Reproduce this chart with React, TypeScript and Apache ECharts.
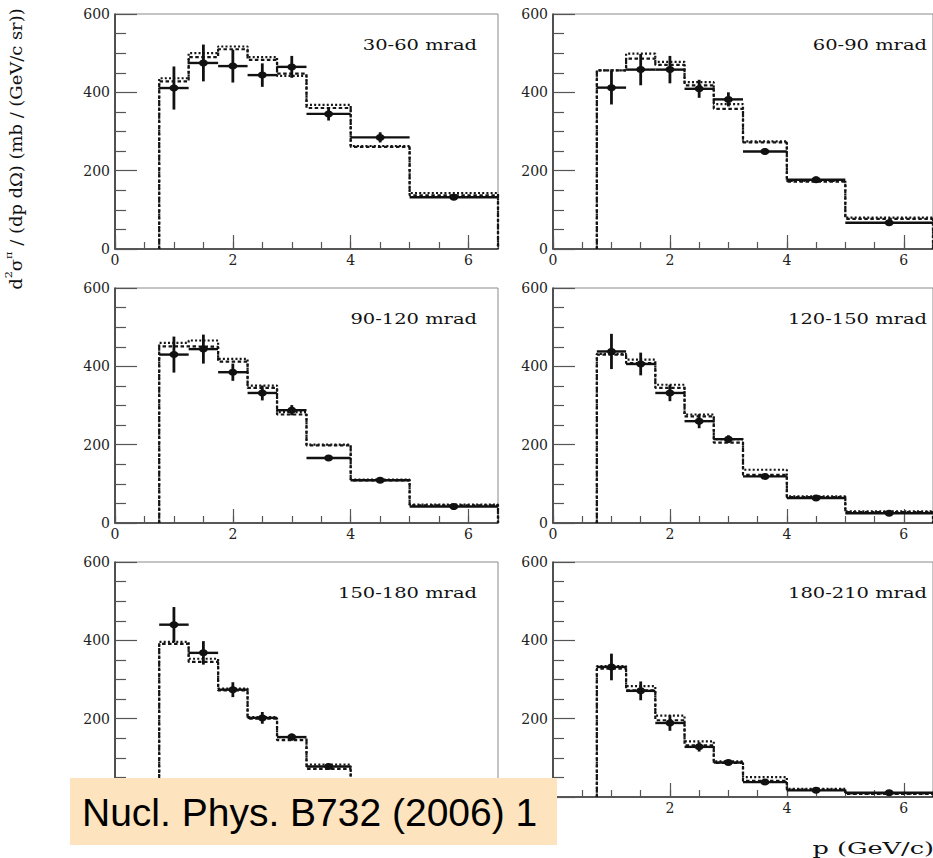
import React, { useEffect, useRef } from "react";
import * as echarts from "echarts";

// ---------- data ----------
const binEdges = [0.75, 1.25, 1.75, 2.25, 2.75, 3.25, 4, 5, 6.5];
const binCenters = [1, 1.5, 2, 2.5, 3, 3.625, 4.5, 5.75];

const panelLabels = ["30-60 mrad", "60-90 mrad", "90-120 mrad", "120-150 mrad", "150-180 mrad", "180-210 mrad"];

const xMajorTicks = [0, 2, 4, 6];
const yTickInterval = 200;

const data30 = [411, 475, 467, 444, 465, 345, 285, 132];
const err30 = [55, 47, 42, 30, 28, 17, 13, 5];
const mcA30 = [436, 500, 517, 490, 442, 368, 263, 143];
const mcB30 = [428, 490, 510, 483, 448, 360, 261, 137];

const data60 = [412, 458, 458, 409, 382, 249, 177, 67];
const err60 = [43, 40, 35, 23, 18, 8, 8, 5];
const mcA60 = [456, 499, 478, 426, 370, 275, 174, 80];
const mcB60 = [456, 486, 470, 418, 358, 272, 172, 77];

const data90 = [430, 444, 385, 332, 288, 166, 109, 42];
const err90 = [46, 37, 22, 19, 13, 6, 5, 4];
const mcA90 = [460, 466, 419, 351, 283, 200, 111, 47];
const mcB90 = [451, 450, 412, 345, 277, 198, 109, 45];

const data120 = [438, 406, 332, 260, 214, 119, 64, 25];
const err120 = [45, 29, 21, 18, 10, 6, 5, 4];
const mcA120 = [432, 417, 353, 277, 214, 136, 68, 30];
const mcB120 = [430, 408, 345, 272, 205, 123, 66, 28];

const data150 = [440, 368, 274, 202, 153, 78, 35, 10];
const err150 = [45, 30, 19, 15, 9, 5, 4, 3];
const mcA150 = [396, 353, 277, 204, 153, 83, 38, 12];
const mcB150 = [391, 345, 272, 200, 145, 72, 35, 10];

const data180 = [332, 271, 189, 128, 88, 38, 17, 11];
const err180 = [34, 24, 20, 12, 6, 5, 3, 3];
const mcA180 = [334, 283, 208, 142, 91, 51, 21, 9];
const mcB180 = [328, 272, 196, 132, 87, 41, 19, 8];

const panelData = [data30, data60, data90, data120, data150, data180];
const panelErr = [err30, err60, err90, err120, err150, err180];
const panelMcA = [mcA30, mcA60, mcA90, mcA120, mcA150, mcA180];
const panelMcB = [mcB30, mcB60, mcB90, mcB120, mcB150, mcB180];

const xTitle = "p (GeV/c)";
const citation = "Nucl. Phys. B732 (2006) 1";

// ---------- layout ----------
const colLeft = [115, 553];
const rowTop = [14, 288, 562];
const gridW = 383;
const gridH = 235;
const SERIF = "DejaVu Serif";
const COVERED_PANEL = 4; // bottom-left panel, whose axis labels lie under the citation box

function histPoints(vals: number[]): number[][] {
  const pts: number[][] = [[binEdges[0], 0]];
  vals.forEach((v, i) => {
    pts.push([binEdges[i], v]);
    pts.push([binEdges[i + 1], v]);
  });
  pts.push([binEdges[binEdges.length - 1], 0]);
  return pts;
}

function buildOption() {
  const grid: any[] = [];
  const xAxis: any[] = [];
  const yAxis: any[] = [];
  const series: any[] = [];
  const graphic: any[] = [];

  for (let i = 0; i < 6; i++) {
    const row = Math.floor(i / 2);
    const col = i % 2;
    const covered = i === COVERED_PANEL;
    grid.push({
      left: colLeft[col],
      top: rowTop[row],
      width: gridW,
      height: gridH,
      show: true,
      borderColor: "#8a8a8a",
      borderWidth: 1,
      backgroundColor: "transparent",
    });
    // minor tick axis + axis line
    xAxis.push({
      gridIndex: i,
      type: "value",
      position: "bottom",
      min: 0,
      max: 6.5,
      interval: 0.5,
      axisLine: { show: true, onZero: false, lineStyle: { color: "#333", width: 1.6 } },
      axisTick: { show: true, inside: true, length: 7, lineStyle: { color: "#555", width: 1.2 } },
      axisLabel: { show: false },
      splitLine: { show: false },
    });
    // major tick axis + labels
    xAxis.push({
      gridIndex: i,
      type: "value",
      position: "bottom",
      min: 0,
      max: 6.5,
      interval: 2,
      axisLine: { show: false, onZero: false },
      axisTick: { show: true, inside: true, length: 14, customValues: xMajorTicks, lineStyle: { color: "#555", width: 1.2 } },
      axisLabel: {
        show: !covered,
        customValues: xMajorTicks,
        fontFamily: SERIF,
        fontSize: 14,
        color: "#222",
        margin: 4,
      },
      splitLine: { show: false },
    });
    yAxis.push({
      gridIndex: i,
      type: "value",
      min: 0,
      max: 600,
      interval: yTickInterval,
      axisLine: { show: true, onZero: false, lineStyle: { color: "#333", width: 1.6 } },
      axisTick: { show: true, inside: true, length: 22, lineStyle: { color: "#555", width: 1.2 } },
      minorTick: { show: true, splitNumber: 4, length: 11, lineStyle: { color: "#555", width: 1.2 } },
      axisLabel: {
        show: true,
        showMinLabel: !covered,
        fontFamily: SERIF,
        fontSize: 14,
        color: "#222",
        margin: 5,
      },
      splitLine: { show: false },
    });

    series.push({
      type: "line",
      xAxisIndex: 2 * i,
      yAxisIndex: i,
      data: histPoints(panelMcA[i]),
      showSymbol: false,
      symbol: "none",
      lineStyle: { color: "#151515", width: 2.2, type: [2, 2.2] },
      z: 3,
    });
    series.push({
      type: "line",
      xAxisIndex: 2 * i,
      yAxisIndex: i,
      data: histPoints(panelMcB[i]),
      showSymbol: false,
      symbol: "none",
      lineStyle: { color: "#151515", width: 2.2, type: [3.5, 2.5] },
      z: 3,
    });
    series.push({
      type: "custom",
      xAxisIndex: 2 * i,
      yAxisIndex: i,
      encode: { x: 2, y: 3 },
      data: panelData[i].map((v, k) => [binEdges[k], binEdges[k + 1], binCenters[k], v, panelErr[i][k]]),
      z: 5,
      renderItem: (params: any, api: any) => {
        const lo = api.value(0);
        const hi = api.value(1);
        const xc = api.value(2);
        const y = api.value(3);
        const e = api.value(4);
        const pL = api.coord([lo, y]);
        const pR = api.coord([hi, y]);
        const pT = api.coord([xc, y + e]);
        const pB = api.coord([xc, y - e]);
        const pC = api.coord([xc, y]);
        return {
          type: "group",
          children: [
            { type: "line", shape: { x1: pL[0], y1: pL[1], x2: pR[0], y2: pR[1] }, style: { stroke: "#111", lineWidth: 2.4 } },
            { type: "line", shape: { x1: pT[0], y1: pT[1], x2: pB[0], y2: pB[1] }, style: { stroke: "#111", lineWidth: 2.8 } },
            { type: "ellipse", shape: { cx: pC[0], cy: pC[1], rx: 4.5, ry: 3.5 }, style: { fill: "#111" } },
          ],
        };
      },
    });

    // panel label
    graphic.push({
      type: "text",
      x: col === 0 ? 477 : 927,
      y: rowTop[row] + 31,
      scaleX: 1.3,
      z: 10,
      style: {
        text: panelLabels[i],
        font: `15px "${SERIF}"`,
        fill: "#111",
        align: "right",
        verticalAlign: "middle",
      },
    });
  }

  // y axis title
  graphic.push({
    type: "text",
    x: 14,
    y: 149,
    rotation: Math.PI / 2,
    scaleX: 1.12,
    z: 10,
    style: {
      text: "{n|d}{s|2}{n|σ}{s|π}{n| / (dp dΩ) (mb / (GeV/c sr))}",
      rich: {
        n: { fontFamily: SERIF, fontSize: 16, lineHeight: 20, fill: "#111", verticalAlign: "bottom" },
        s: { fontFamily: SERIF, fontSize: 10, lineHeight: 20, fill: "#111", verticalAlign: "top" },
      },
      align: "center",
      verticalAlign: "middle",
    },
  });

  // x axis title
  graphic.push({
    type: "text",
    x: 934,
    y: 848,
    scaleX: 1.6,
    z: 10,
    style: {
      text: xTitle,
      font: `16px "${SERIF}"`,
      fill: "#111",
      align: "right",
      verticalAlign: "middle",
    },
  });

  // citation box
  graphic.push({
    type: "group",
    z: 100,
    children: [
      { type: "rect", shape: { x: 70, y: 778, width: 487, height: 67 }, style: { fill: "#FDE4BE" }, z: 100 },
      {
        type: "text",
        x: 82,
        y: 812,
        z: 101,
        style: {
          text: citation,
          font: '39px "Liberation Sans"',
          fill: "#000",
          align: "left",
          verticalAlign: "middle",
        },
      },
    ],
  });

  return {
    animation: false,
    backgroundColor: "#fff",
    grid,
    xAxis,
    yAxis,
    series,
    graphic,
  };
}

export default function App() {
  const ref = useRef<HTMLDivElement>(null);
  useEffect(() => {
    document.body.style.margin = "0";
    if (!ref.current) return;
    const chart = echarts.init(ref.current, undefined, { renderer: "svg" });
    chart.setOption(buildOption() as any);
    return () => chart.dispose();
  }, []);
  return <div ref={ref} style={{ width: 933, height: 858, position: "absolute", left: 0, top: 0 }} />;
}
